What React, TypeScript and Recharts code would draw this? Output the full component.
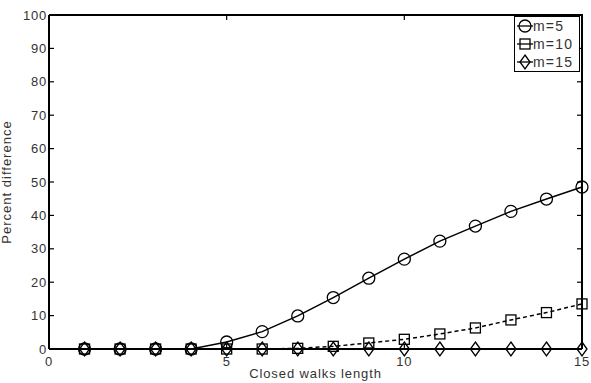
import { Line, LineChart, ReferenceLine, XAxis, YAxis } from "recharts";

const lengths = [1, 2, 3, 4, 5, 6, 7, 8, 9, 10, 11, 12, 13, 14, 15];
const m5 = [0, 0, 0, 0, 2.1, 5.2, 9.9, 15.4, 21.2, 26.9, 32.3, 36.8, 41.2, 44.9, 48.5];
const m10 = [0, 0, 0, 0, 0, 0, 0.2, 0.8, 1.8, 2.9, 4.5, 6.3, 8.7, 10.9, 13.5];
const m15 = [0, 0, 0, 0, 0, 0, 0, 0, 0, 0, 0, 0, 0, 0, 0];
const xTicks = [0, 5, 10, 15];
const yTicks = [0, 10, 20, 30, 40, 50, 60, 70, 80, 90, 100];

const data = lengths.map((len, i) => ({ len, m5: m5[i], m10: m10[i], m15: m15[i] }));

const W = 591;
const H = 383;
const MARGIN = { top: 15, right: 9, bottom: 0, left: 0 };
const Y_AXIS_W = 49;
const X_AXIS_H = 34;
const PLOT_W = W - MARGIN.right - Y_AXIS_W;
const PLOT_H = H - MARGIN.top - X_AXIS_H;

const INK = "#000";
const TEXT = "#333";
const FONT = "'Liberation Sans', Arial, sans-serif";
const TICK = 5;

const Circle = ({ cx, cy }: any) => (
  <circle cx={cx} cy={cy} r={6} fill="none" stroke={INK} strokeWidth={1.3} />
);
const Square = ({ cx, cy }: any) => (
  <rect x={cx - 5} y={cy - 5} width={10} height={10} fill="none" stroke={INK} strokeWidth={1.3} />
);
const Diamond = ({ cx, cy }: any) => (
  <path
    d={`M${cx},${cy - 7} L${cx + 5},${cy} L${cx},${cy + 7} L${cx - 5},${cy} Z`}
    fill="none"
    stroke={INK}
    strokeWidth={1.3}
  />
);

// bottom ticks also draw the mirrored tick on the top frame
const BottomTick = ({ x, y, payload }: any) => (
  <g>
    <line x1={x} x2={x} y1={y} y2={y - TICK} stroke={INK} strokeWidth={1.2} />
    <line x1={x} x2={x} y1={y - PLOT_H} y2={y - PLOT_H + TICK} stroke={INK} strokeWidth={1.2} />
    <text
      x={x}
      y={y + 12}
      textAnchor="middle"
      dominantBaseline="central"
      fill={TEXT}
      fontSize={13}
      fontFamily={FONT}
      letterSpacing={0.8}
    >
      {payload.value}
    </text>
  </g>
);

// left ticks also draw the mirrored tick on the right frame
const LeftTick = ({ x, y, payload }: any) => (
  <g>
    <line x1={x} x2={x + TICK} y1={y} y2={y} stroke={INK} strokeWidth={1.2} />
    <line x1={x + PLOT_W} x2={x + PLOT_W - TICK} y1={y} y2={y} stroke={INK} strokeWidth={1.2} />
    <text
      x={x - 2}
      y={y}
      textAnchor="end"
      dominantBaseline="central"
      fill={TEXT}
      fontSize={13}
      fontFamily={FONT}
      letterSpacing={0.8}
    >
      {payload.value}
    </text>
  </g>
);

const legendItems = [
  { label: "m=5", Mark: Circle },
  { label: "m=10", Mark: Square },
  { label: "m=15", Mark: Diamond },
];

const LegendBox = () => (
  <div
    style={{
      position: "absolute",
      top: 16,
      left: 514,
      width: 62,
      border: `1.5px solid ${INK}`,
      background: "#fff",
      padding: "0px 0px 0px 2px",
      fontFamily: FONT,
      fontSize: 14,
      letterSpacing: 1.2,
      color: TEXT,
      lineHeight: "18px",
    }}
  >
    {legendItems.map(({ label, Mark }) => (
      <div key={label} style={{ display: "flex", alignItems: "center" }}>
        <svg width={16} height={18}>
          <line x1={0} x2={16} y1={9} y2={9} stroke={INK} strokeWidth={1.3} />
          <Mark cx={8} cy={9} />
        </svg>
        <span>{label}</span>
      </div>
    ))}
  </div>
);

export default function App() {
  return (
    <div style={{ position: "absolute", left: 0, top: 0, width: W, height: H, background: "#fff" }}>
      <LineChart width={W} height={H} data={data} margin={MARGIN}>
        <XAxis
          dataKey="len"
          type="number"
          domain={[0, 15]}
          ticks={xTicks}
          height={X_AXIS_H}
          tickSize={0}
          tickMargin={0}
          tickLine={false}
          axisLine={{ stroke: INK, strokeWidth: 2 }}
          tick={<BottomTick />}
          interval={0}
        />
        <YAxis
          type="number"
          domain={[0, 100]}
          ticks={yTicks}
          width={Y_AXIS_W}
          tickSize={0}
          tickMargin={0}
          tickLine={false}
          axisLine={{ stroke: INK, strokeWidth: 2 }}
          tick={<LeftTick />}
          interval={0}
          label={{
            value: "Percent difference",
            angle: -90,
            position: "insideLeft",
            offset: 6,
            style: { textAnchor: "middle", fill: TEXT, fontSize: 13, fontFamily: FONT, letterSpacing: 1 },
          }}
        />
        <ReferenceLine y={100} stroke={INK} strokeWidth={2} ifOverflow="visible" />
        <ReferenceLine x={15} stroke={INK} strokeWidth={2} ifOverflow="visible" />
        <Line
          dataKey="m5"
          stroke={INK}
          strokeWidth={1.5}
          dot={(p: any) => <Circle key={`c${p.index}`} cx={p.cx} cy={p.cy} />}
          activeDot={false}
          isAnimationActive={false}
        />
        <Line
          dataKey="m10"
          stroke={INK}
          strokeWidth={1.5}
          strokeDasharray="4 3"
          dot={(p: any) => <Square key={`s${p.index}`} cx={p.cx} cy={p.cy} />}
          activeDot={false}
          isAnimationActive={false}
        />
        <Line
          dataKey="m15"
          stroke={INK}
          strokeWidth={1.5}
          dot={(p: any) => <Diamond key={`d${p.index}`} cx={p.cx} cy={p.cy} />}
          activeDot={false}
          isAnimationActive={false}
        />
      </LineChart>
      {/* top and right edges of the axes box */}
      <div
        style={{
          position: "absolute",
          left: Y_AXIS_W,
          top: MARGIN.top - 1,
          width: PLOT_W + 1,
          height: PLOT_H + 1,
          boxSizing: "border-box",
          borderTop: `2px solid ${INK}`,
          borderRight: `2px solid ${INK}`,
          pointerEvents: "none",
        }}
      />
      <LegendBox />
      <div
        style={{
          position: "absolute",
          left: Y_AXIS_W,
          width: PLOT_W,
          top: 366,
          textAlign: "center",
          fontFamily: FONT,
          fontSize: 13,
          letterSpacing: 0.9,
          color: TEXT,
        }}
      >
        Closed walks length
      </div>
    </div>
  );
}
